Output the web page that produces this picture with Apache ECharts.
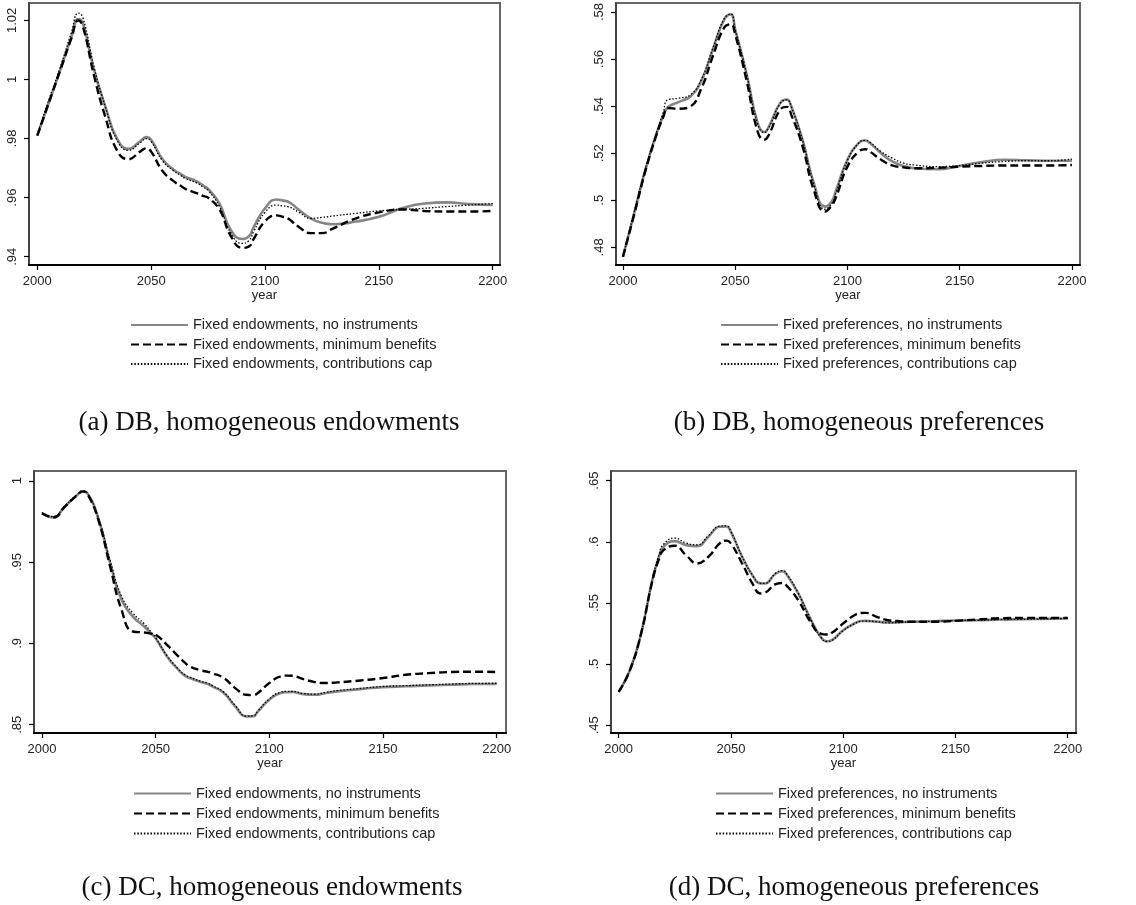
<!DOCTYPE html>
<html>
<head>
<meta charset="utf-8">
<script src="https://cdn.jsdelivr.net/npm/echarts@6/dist/echarts.min.js"></script>
<style>html,body{margin:0;padding:0;background:#fff}#c{width:1136px;height:905px}</style>
</head>
<body>
<div id="c"></div>
<script>
// ---------- data ----------
const years = [2000,2005,2010,2015,2018,2020,2025,2030,2035,2040,2045,2048,2050,2055,2060,2063,2065,2070,2073,2075,2080,2085,2090,2093,2095,2100,2105,2108,2110,2115,2120,2125,2130,2140,2150,2160,2170,2180,2190,2200];

// (a) DB, homogeneous endowments
const aNone = [.981,.992,1.003,1.0145,1.0205,1.019,1.003,.9905,.980,.9765,.979,.9805,.9796,.973,.9694,.968,.967,.9655,.964,.963,.958,.949,.946,.947,.950,.9564,.9594,.959,.9587,.9558,.953,.9515,.951,.9519,.9535,.9564,.958,.9584,.9578,.9575];
const aMin  = [.981,.992,1.003,1.014,1.020,1.018,1.001,.987,.976,.973,.9755,.9767,.9756,.969,.9655,.964,.963,.9615,.9605,.960,.956,.947,.943,.9435,.946,.952,.954,.9535,.953,.950,.948,.948,.9496,.953,.955,.956,.9555,.9553,.9553,.9555];
const aCap  = [.9815,.993,1.004,1.016,1.0225,1.021,1.004,.9905,.9795,.976,.9785,.980,.979,.9725,.969,.9675,.9665,.965,.9635,.9625,.957,.948,.9445,.9455,.9485,.955,.9575,.9572,.957,.955,.953,.9533,.9538,.9547,.9555,.956,.9564,.957,.9575,.958];

// (b) DB, homogeneous preferences
const bNone = [.476,.4945,.513,.5285,.536,.5395,.5418,.5441,.551,.564,.5767,.579,.5725,.554,.5328,.529,.5313,.5413,.5428,.5399,.5257,.5073,.4973,.4995,.5044,.5172,.5243,.5254,.5243,.520,.5165,.5146,.5136,.5132,.5146,.5163,.5172,.517,.5168,.5168];
const bMin  = [.476,.494,.5125,.528,.5355,.5392,.5389,.5399,.5477,.5611,.5732,.5748,.5704,.5512,.5292,.5258,.5278,.5385,.5397,.5363,.5229,.5044,.4952,.4978,.5016,.5143,.5207,.5217,.5207,.5172,.5148,.514,.5136,.5138,.5143,.5146,.5148,.5148,.5148,.515];
const bCap  = [.476,.495,.5135,.529,.5375,.5427,.5434,.5448,.5515,.5645,.577,.5792,.5725,.554,.5325,.5288,.531,.541,.5427,.5397,.5255,.507,.4962,.4985,.5035,.517,.5243,.5255,.5247,.5207,.5179,.5158,.515,.5143,.5148,.5158,.5165,.5168,.5168,.5175];

// (c) DC, homogeneous endowments
const cNone = [.98,.9775,.984,.9906,.9932,.9922,.9759,.9493,.9268,.9165,.9104,.906,.9032,.892,.8838,.880,.8787,.8762,.875,.8736,.8695,.8613,.8551,.8553,.8582,.8654,.8695,.870,.8701,.8688,.8684,.8695,.8705,.8719,.8731,.8736,.8742,.8746,.875,.875];
const cMin  = [.98,.9775,.984,.9906,.9935,.992,.975,.9472,.9206,.9073,.9067,.906,.9053,.8991,.892,.888,.8858,.8834,.8825,.8817,.8787,.8725,.8684,.8682,.8695,.8756,.8797,.8802,.8801,.878,.8762,.8756,.876,.8772,.8787,.8807,.8817,.8824,.8826,.8824];
const cCap  = [.9805,.978,.9845,.991,.9938,.9925,.9765,.951,.929,.9186,.912,.907,.9035,.8925,.8843,.8805,.8792,.8767,.8755,.874,.870,.8618,.8553,.8555,.8585,.8658,.870,.8705,.8705,.8692,.8688,.870,.871,.8723,.8735,.874,.8745,.875,.8754,.8755];

// (d) DC, homogeneous preferences
const dNone = [.4773,.495,.525,.5687,.588,.596,.6006,.5973,.5965,.6042,.6123,.6125,.6082,.5878,.5714,.566,.5659,.5741,.576,.5728,.5578,.5387,.5223,.5187,.5196,.5277,.5332,.5352,.5354,.5348,.534,.5342,.5346,.5351,.5357,.5359,.5365,.5367,.537,.5373];
const dMin  = [.4773,.495,.525,.568,.586,.5932,.5968,.5891,.5823,.5878,.5987,.601,.5987,.5823,.5646,.5578,.5583,.5654,.5663,.5638,.5523,.5359,.525,.5242,.5256,.5332,.540,.5418,.5419,.5387,.5359,.5351,.5346,.5346,.5354,.5365,.5376,.5378,.5378,.5378];
const dCap  = [.4773,.495,.525,.569,.5895,.598,.603,.599,.5975,.605,.6128,.613,.6085,.588,.5716,.5662,.566,.5745,.5765,.5732,.558,.5385,.522,.5185,.5194,.5275,.533,.535,.5352,.5346,.5338,.534,.5345,.535,.5356,.5358,.5364,.5366,.537,.5373];

// tick labels
const xTicks  = [2000,2050,2100,2150,2200];
const aYTicks = [0.94,0.96,0.98,1,1.02];
const bYTicks = [0.48,0.5,0.52,0.54,0.56,0.58];
const cYTicks = [0.85,0.9,0.95,1];
const dYTicks = [0.45,0.5,0.55,0.6,0.65];

const endowNames = ["Fixed endowments, no instruments","Fixed endowments, minimum benefits","Fixed endowments, contributions cap"];
const prefNames  = ["Fixed preferences, no instruments","Fixed preferences, minimum benefits","Fixed preferences, contributions cap"];
const captions = ["(a) DB, homogeneous endowments","(b) DB, homogeneous preferences","(c) DC, homogeneous endowments","(d) DC, homogeneous preferences"];

// ---------- layout ----------
const panels = [
  {grid:{left:29, top:3, width:471, height:262}, x:[1996.35,2203.2], y:[0.9372,1.0259], yt:aYTicks, names:endowNames, vals:[aNone,aMin,aCap], leg:{left:130, top:317.5, gap:4.5}, cap:[269,423]},
  {grid:{left:616, top:3, width:464, height:262}, x:[1996.9,2203.6], y:[0.4725,0.5838], yt:bYTicks, names:prefNames, vals:[bNone,bMin,bCap], leg:{left:720, top:317.5, gap:4.5}, cap:[859,423]},
  {grid:{left:34, top:471, width:472, height:262}, x:[1996.5,2204.1], y:[0.8449,1.006], yt:cYTicks, names:endowNames, vals:[cNone,cMin,cCap], leg:{left:133, top:786, gap:5}, cap:[272,888]},
  {grid:{left:611, top:471, width:465, height:262}, x:[1996.6,2203.7], y:[0.4437,0.6579], yt:dYTicks, names:prefNames, vals:[dNone,dMin,dCap], leg:{left:715, top:786, gap:5}, cap:[854,888]}
];

const styles = [
  {color:'#858585', width:2.6, type:'solid'},
  {color:'#000', width:2.4, type:[8,4]},
  {color:'#000', width:1.3, type:[1.5,1.8]}
];
const fmt = v => String(v).replace(/^0\./,'.');
const axFont = 'Liberation Sans, Arial, sans-serif';

const option = {
  backgroundColor:'#fff',
  animation:false,
  grid:[], xAxis:[], yAxis:[], series:[], legend:[], graphic:[]
};

panels.forEach((p,i)=>{
  option.grid.push(Object.assign({show:true, borderColor:'#666', borderWidth:2, backgroundColor:'#fff'}, p.grid));
  option.xAxis.push({
    gridIndex:i, type:'value', min:p.x[0], max:p.x[1],
    name:'year', nameLocation:'middle', nameGap:23,
    nameTextStyle:{fontSize:13, color:'#222', fontFamily:axFont},
    axisLine:{onZero:false, lineStyle:{color:'#000', width:2}},
    axisTick:{customValues:xTicks, length:5, lineStyle:{color:'#000', width:1.2}},
    axisLabel:{customValues:xTicks, margin:10, fontSize:13, color:'#222', fontFamily:axFont, formatter:v=>String(v)},
    splitLine:{show:false}
  });
  option.yAxis.push({
    gridIndex:i, type:'value', min:p.y[0], max:p.y[1],
    axisLine:{show:true, onZero:false, lineStyle:{color:'#444', width:2}},
    axisTick:{show:true, customValues:p.yt, length:5, lineStyle:{color:'#000', width:1.2}},
    axisLabel:{customValues:p.yt, rotate:90, margin:10, fontSize:13, color:'#222', fontFamily:axFont, formatter:fmt},
    splitLine:{show:false}
  });
  p.vals.forEach((arr,k)=>{
    option.series.push({
      type:'line', name:p.names[k], xAxisIndex:i, yAxisIndex:i,
      data: years.map((yr,j)=>[yr, arr[j]]),
      smooth:0.5, symbol:'none', showSymbol:false, silent:true,
      lineStyle:{color:styles[k].color, width:styles[k].width, type:styles[k].type},
      itemStyle:{color:styles[k].color},
      z: 2+k
    });
  });
  option.legend.push({
    data:p.names.slice(), left:p.leg.left, top:p.leg.top, orient:'vertical', padding:0,
    itemWidth:57, itemHeight:12, itemGap:p.leg.gap, selectedMode:false,
    itemStyle:{opacity:0},
    textStyle:{fontSize:14.5, color:'#222', fontFamily:axFont}
  });
  option.graphic.push({
    type:'text', x:p.cap[0], y:p.cap[1],
    style:{text:captions[i], font:'27px "Liberation Serif", serif', fill:'#111', textAlign:'center', textVerticalAlign:'middle'}
  });
});

const chart = echarts.init(document.getElementById('c'), null, {renderer:'canvas'});
chart.setOption(option);
</script>
</body>
</html>
